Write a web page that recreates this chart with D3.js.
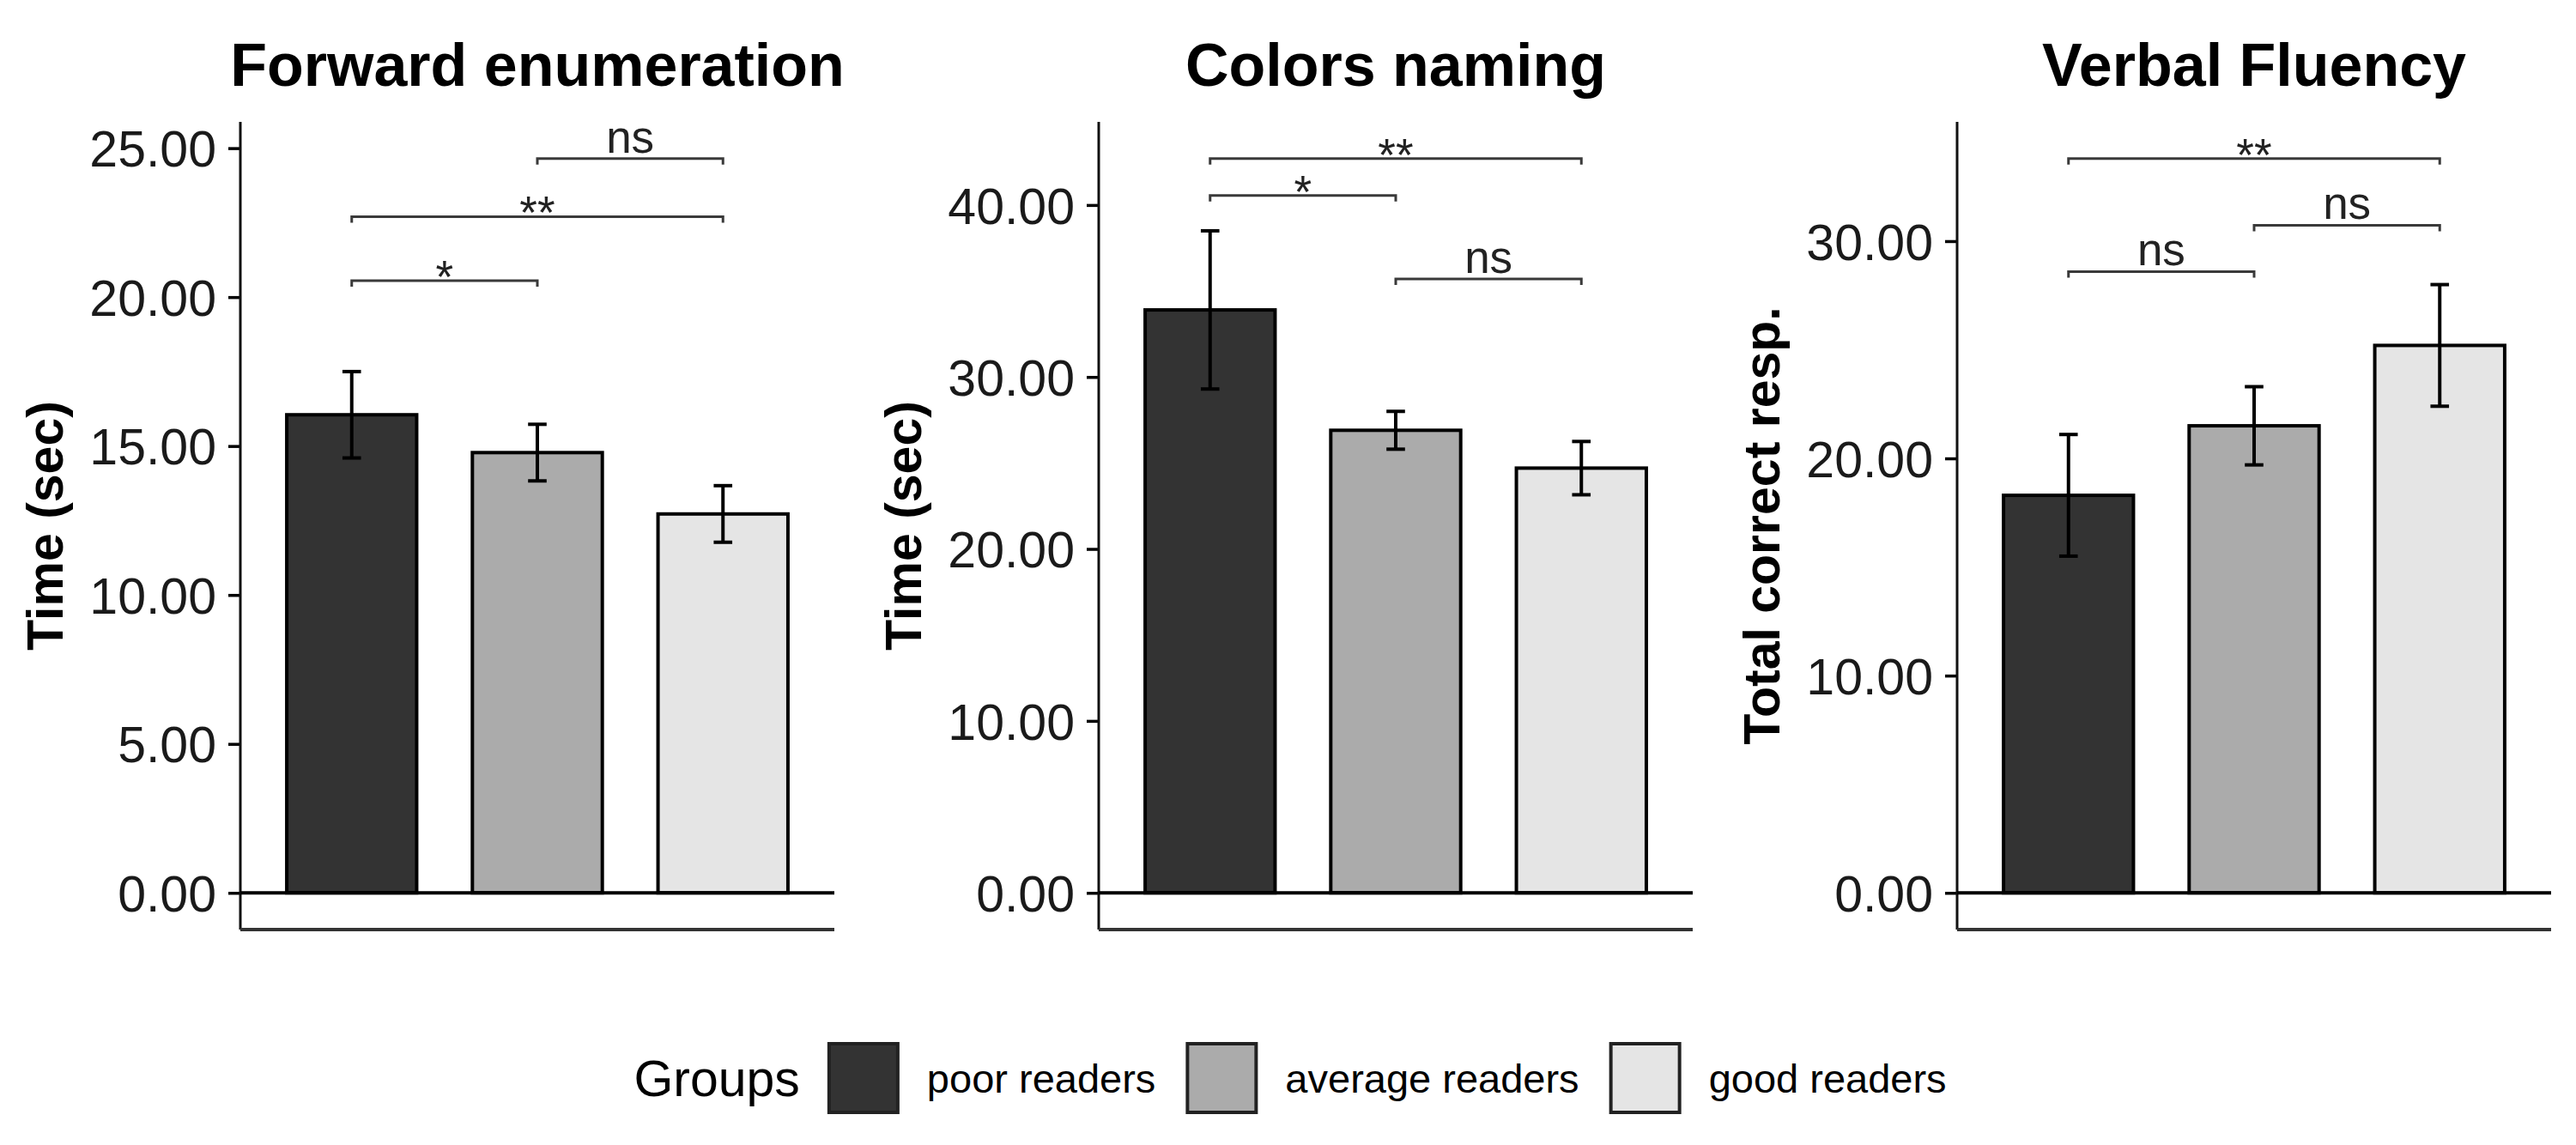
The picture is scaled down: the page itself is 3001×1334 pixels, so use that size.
<!DOCTYPE html>
<html>
<head>
<meta charset="utf-8">
<script src="https://cdn.jsdelivr.net/npm/d3@7"></script>
<style>
  html, body { margin: 0; padding: 0; background: #ffffff; }
  svg { display: block; }
  text { font-family: "Liberation Sans", Arial, Helvetica, sans-serif; }
</style>
</head>
<body>
<svg id="chart" width="3001" height="1334"></svg>
<script>
// ---------------- data ----------------
const groups = ["poor readers", "average readers", "good readers"];
const legendTitle = "Groups";

const panelTitles = ["Forward enumeration", "Colors naming", "Verbal Fluency"];
const yTitles = ["Time (sec)", "Time (sec)", "Total correct resp."];

const forwardMeans = [16.05, 14.78, 12.72];
const forwardErrors = [1.45, 0.95, 0.95];
const forwardTicks = [0, 5, 10, 15, 20, 25];
const forwardSig = [
  { from: 0, to: 1, y: 20.55, label: "*" },
  { from: 0, to: 2, y: 22.7, label: "**" },
  { from: 1, to: 2, y: 24.65, label: "ns" }
];

const colorsMeans = [33.9, 26.9, 24.7];
const colorsErrors = [4.6, 1.1, 1.55];
const colorsTicks = [0, 10, 20, 30, 40];
const colorsSig = [
  { from: 0, to: 1, y: 40.55, label: "*" },
  { from: 0, to: 2, y: 42.7, label: "**" },
  { from: 1, to: 2, y: 35.7, label: "ns" }
];

const fluencyMeans = [18.3, 21.5, 25.2];
const fluencyErrors = [2.8, 1.8, 2.8];
const fluencyTicks = [0, 10, 20, 30];
const fluencySig = [
  { from: 0, to: 1, y: 28.6, label: "ns" },
  { from: 1, to: 2, y: 30.73, label: "ns" },
  { from: 0, to: 2, y: 33.8, label: "**" }
];

// ---------------- styles ----------------
const fillColors = ["#333333", "#ababab", "#e5e5e5"];
const fmt = d3.format(".2f");

const panels = [
  { means: forwardMeans, errors: forwardErrors, ticks: forwardTicks, sig: forwardSig },
  { means: colorsMeans, errors: colorsErrors, ticks: colorsTicks, sig: colorsSig },
  { means: fluencyMeans, errors: fluencyErrors, ticks: fluencyTicks, sig: fluencySig }
];

const svg = d3.select("#chart");
const panelOffset = 1000;
const plotLeft = 280, plotRight = 972, plotTop = 142, plotBottom = 1083;

const color = d3.scaleOrdinal().domain(groups).range(fillColors);

panels.forEach((p, k) => {
  const g = svg.append("g").attr("transform", `translate(${k * panelOffset},0)`);

  const ymax = d3.max(p.sig, d => d.y);
  const y = d3.scaleLinear()
    .domain([-0.05 * ymax, 1.05 * ymax])
    .range([plotBottom, plotTop]);

  const x = d3.scaleBand()
    .domain(groups)
    .range([plotLeft, plotRight])
    .paddingInner(0.3)
    .paddingOuter(0.25);
  const step = x.step();

  // title
  g.append("text")
    .attr("x", (plotLeft + plotRight) / 2)
    .attr("y", 100)
    .attr("text-anchor", "middle")
    .attr("font-size", 70)
    .attr("font-weight", "bold")
    .attr("fill", "#000")
    .text(panelTitles[k]);

  // y axis title
  g.append("text")
    .attr("transform", `translate(73,${(plotTop + plotBottom) / 2}) rotate(-90)`)
    .attr("text-anchor", "middle")
    .attr("font-size", 59)
    .attr("font-weight", "bold")
    .attr("fill", "#000")
    .text(yTitles[k]);

  // y axis
  const yAxis = d3.axisLeft(y)
    .tickValues(p.ticks)
    .tickFormat(fmt)
    .tickSize(14)
    .tickPadding(14);
  const ag = g.append("g")
    .attr("transform", `translate(${plotLeft},0)`)
    .call(yAxis);
  ag.select(".domain").remove();
  ag.selectAll(".tick line").attr("stroke", "#000").attr("stroke-width", 3.5);
  ag.selectAll(".tick text")
    .attr("font-size", 59)
    .attr("fill", "#1a1a1a")
    .attr("font-family", "'Liberation Sans', Arial, sans-serif")
    .attr("dy", "0.36em");

  // axis lines (left and bottom)
  g.append("line")
    .attr("x1", plotLeft).attr("x2", plotLeft)
    .attr("y1", plotTop).attr("y2", plotBottom)
    .attr("stroke", "#111").attr("stroke-width", 3);
  g.append("line")
    .attr("x1", plotLeft).attr("x2", plotRight)
    .attr("y1", plotBottom).attr("y2", plotBottom)
    .attr("stroke", "#333").attr("stroke-width", 4);

  // bars
  g.selectAll("rect.bar")
    .data(p.means)
    .enter().append("rect")
    .attr("class", "bar")
    .attr("x", (d, i) => x(groups[i]))
    .attr("width", x.bandwidth())
    .attr("y", d => y(d))
    .attr("height", d => y(0) - y(d))
    .attr("fill", (d, i) => color(groups[i]))
    .attr("stroke", "#000")
    .attr("stroke-width", 4);

  // zero line
  g.append("line")
    .attr("x1", plotLeft).attr("x2", plotRight)
    .attr("y1", y(0)).attr("y2", y(0))
    .attr("stroke", "#000").attr("stroke-width", 4);

  // error bars
  const capHalf = 0.05 * step;
  p.means.forEach((m, i) => {
    const cx = x(groups[i]) + x.bandwidth() / 2;
    const hi = y(m + p.errors[i]), lo = y(m - p.errors[i]);
    const eg = g.append("g").attr("stroke", "#000").attr("stroke-width", 4);
    eg.append("line").attr("x1", cx).attr("x2", cx).attr("y1", hi).attr("y2", lo);
    eg.append("line").attr("x1", cx - capHalf).attr("x2", cx + capHalf).attr("y1", hi).attr("y2", hi);
    eg.append("line").attr("x1", cx - capHalf).attr("x2", cx + capHalf).attr("y1", lo).attr("y2", lo);
  });

  // significance brackets
  const tip = 7;
  const sigFont = 53;
  p.sig.forEach(s => {
    const xa = x(groups[s.from]) + x.bandwidth() / 2;
    const xb = x(groups[s.to]) + x.bandwidth() / 2;
    const yy = y(s.y);
    g.append("path")
      .attr("d", `M${xa},${yy + tip}V${yy}H${xb}V${yy + tip}`)
      .attr("fill", "none")
      .attr("stroke", "#3a3a3a")
      .attr("stroke-width", 3);
    const isStar = s.label.indexOf("*") >= 0;
    g.append("text")
      .attr("x", (xa + xb) / 2)
      .attr("y", isStar ? yy - 9 + 0.43 * sigFont : yy - 7)
      .attr("text-anchor", "middle")
      .attr("font-size", sigFont)
      .attr("fill", "#222")
      .text(s.label);
  });
});

// ---------------- legend ----------------
const legendY = 1256;
const keySize = 84;
const lg = svg.append("g");
const items = [];
const titleText = lg.append("text")
  .attr("font-size", 59).attr("fill", "#000")
  .attr("dy", "0.36em").attr("y", legendY)
  .text(legendTitle);
const titleW = titleText.node().getComputedTextLength();
const labelNodes = groups.map(gname => lg.append("text")
  .attr("font-size", 47).attr("fill", "#000")
  .attr("dy", "0.36em").attr("y", legendY)
  .text(gname));
const labelW = labelNodes.map(n => n.node().getComputedTextLength());
const gapTitle = 32, gapKeyText = 32, gapItem = 35;
const total = titleW + gapTitle + d3.sum(labelW) + groups.length * (keySize + gapKeyText) + (groups.length - 1) * gapItem;
let cx = 1503 - total / 2;
titleText.attr("x", cx);
cx += titleW + gapTitle;
groups.forEach((gname, i) => {
  lg.append("rect")
    .attr("x", cx + 2).attr("y", legendY - keySize / 2 + 2)
    .attr("width", keySize - 4).attr("height", keySize - 4)
    .attr("fill", color(gname))
    .attr("stroke", "#222").attr("stroke-width", 4);
  cx += keySize + gapKeyText;
  labelNodes[i].attr("x", cx);
  cx += labelW[i] + gapItem;
});
</script>
</body>
</html>
